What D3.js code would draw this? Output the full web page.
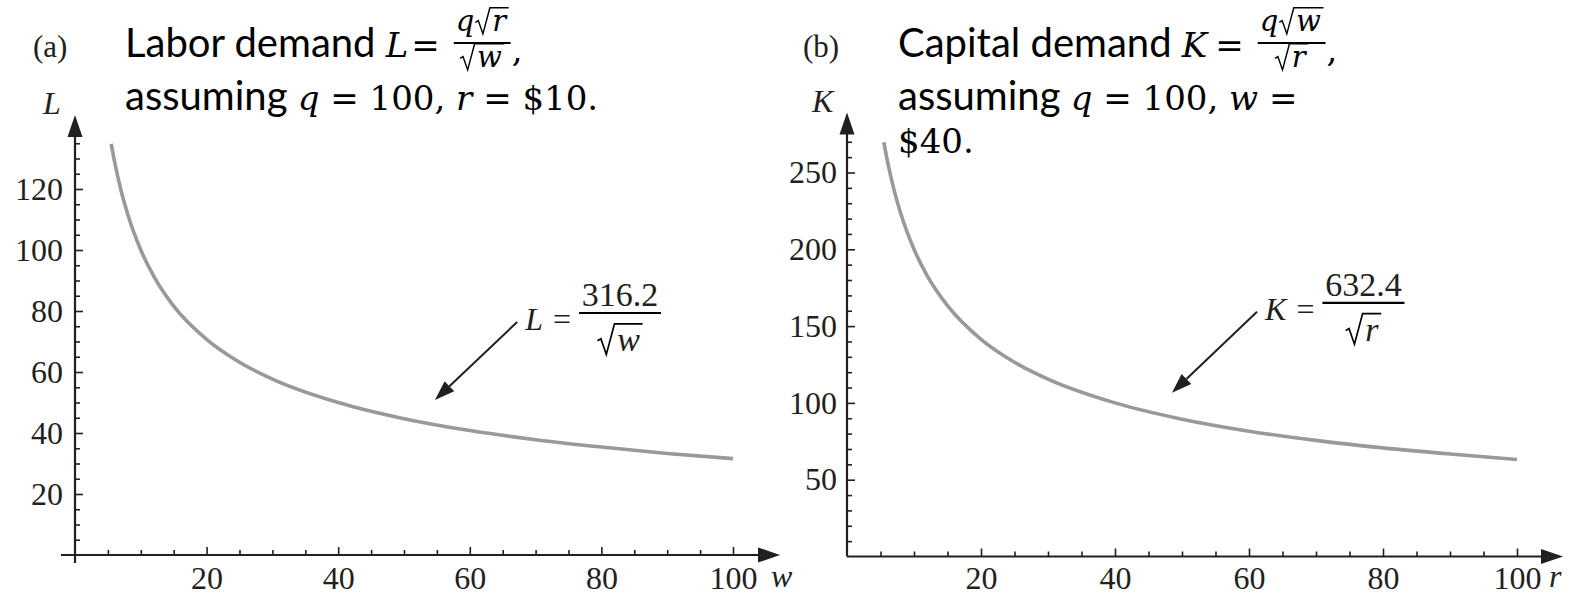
<!DOCTYPE html>
<html>
<head>
<meta charset="utf-8">
<script src="https://cdn.jsdelivr.net/npm/d3@7"></script>
<style>
body { margin: 0; background: #fff; }
text { white-space: pre; }
.tick text { font-family: "Liberation Serif", "Times New Roman", serif; font-size: 32px; fill: #231f20; }
.tick line { stroke: #231f20; stroke-width: 1.6; }
.ttl { font-family: Lato, sans-serif; fill: #000; }
.m { font-family: "DejaVu Serif", serif; fill: #000; }
.mi { font-family: "DejaVu Serif", serif; font-style: italic; fill: #000; }
.ts { font-family: "Liberation Serif", "Times New Roman", serif; fill: #231f20; }
.tsi { font-family: "Liberation Serif", "Times New Roman", serif; font-style: italic; fill: #231f20; }
</style>
</head>
<body>
<svg id="chart" width="1575" height="595"></svg>
<script>
// values
var wageVals = [5.5, 6, 7, 8, 10, 12, 15, 20, 25, 30, 40, 50, 60, 70, 80, 90, 100];
var laborVals = [134.8, 129.1, 119.5, 111.8, 100, 91.3, 81.6, 70.7, 63.2, 57.7, 50, 44.7, 40.8, 37.8, 35.4, 33.3, 31.6];
var rentVals = [5.5, 6, 7, 8, 10, 12, 15, 20, 25, 30, 40, 50, 60, 70, 80, 90, 100];
var capitalVals = [269.7, 258.2, 239.0, 223.6, 200, 182.6, 163.3, 141.4, 126.5, 115.5, 100, 89.4, 81.6, 75.6, 70.7, 66.7, 63.2];

var xTicks = [20, 40, 60, 80, 100];
var xMinor = [5, 10, 15, 25, 30, 35, 45, 50, 55, 65, 70, 75, 85, 90, 95];
var laborTicks = [20, 40, 60, 80, 100, 120];
var laborMinor = [5, 10, 15, 25, 30, 35, 45, 50, 55, 65, 70, 75, 85, 90, 95, 105, 110, 115, 125, 130, 135];
var capitalTicks = [50, 100, 150, 200, 250];
var capitalMinor = [10, 20, 30, 40, 60, 70, 80, 90, 110, 120, 130, 140, 160, 170, 180, 190, 210, 220, 230, 240, 260, 270];

var svg = d3.select("#chart");
var ink = "#231f20";

// put text pieces one after another, return end x
function run(g, x, y, parts) {
  parts.forEach(function(p) {
    var t = g.append("text").attr("x", x).attr("y", y)
      .attr("class", p.c).style("font-size", p.s + "px").text(p.t);
    x += t.node().getComputedTextLength() + (p.gap || 0);
  });
  return x;
}

// square root sign with overbar
function radical(g, x, y, s, txt, cls) {
  var t = g.append("text").attr("x", x + 0.58 * s).attr("y", y)
    .attr("class", cls).style("font-size", s + "px").text(txt);
  var w = t.node().getComputedTextLength();
  var top = y - 0.8 * s;
  g.append("path")
    .attr("d", "M" + x + "," + (y - 0.3 * s) + "l" + (0.1 * s) + "," + (-0.06 * s) +
      "L" + (x + 0.26 * s) + "," + (y + 0.1 * s) + "L" + (x + 0.5 * s) + "," + top +
      "H" + (x + 0.6 * s + w + 2))
    .attr("fill", "none").attr("stroke", "#000").attr("stroke-width", Math.max(1.3, s * 0.05));
  return x + 0.6 * s + w + 2;
}

function fraction(g, x0, barY, numFn, denFn, numOff, denOff, barW) {
  var n = g.append("g"), d = g.append("g");
  numFn(n); denFn(d);
  var nb = n.node().getBBox(), db = d.node().getBBox();
  var bw = barW || Math.max(nb.width, db.width) + 4;
  n.attr("transform", "translate(" + (x0 + (bw - nb.width) / 2 - nb.x) + "," + (barY - numOff) + ")");
  d.attr("transform", "translate(" + (x0 + (bw - db.width) / 2 - db.x) + "," + (barY + denOff) + ")");
  g.append("line").attr("x1", x0).attr("x2", x0 + bw).attr("y1", barY).attr("y2", barY)
    .attr("stroke", "#000").attr("stroke-width", 2.2);
  return x0 + bw;
}

function drawPanel(p) {
  var g = svg.append("g");
  var x = d3.scaleLinear().domain([0, 100]).range(p.xRange);
  var y = d3.scaleLinear().domain([0, p.yMax]).range(p.yRange);

  // minor ticks
  g.append("g").attr("transform", "translate(0," + y(0) + ")")
    .call(d3.axisBottom(x).tickValues(xMinor).tickFormat("").tickSizeInner(-5).tickSizeOuter(0))
    .call(function(a) { a.select(".domain").remove(); });
  g.append("g").attr("transform", "translate(" + x(0) + ",0)")
    .call(d3.axisLeft(y).tickValues(p.yMinor).tickFormat("").tickSizeInner(-5).tickSizeOuter(0))
    .call(function(a) { a.select(".domain").remove(); });

  // major ticks + labels
  g.append("g").attr("transform", "translate(0," + y(0) + ")")
    .call(d3.axisBottom(x).tickValues(xTicks).tickSizeInner(-8).tickSizeOuter(0).tickPadding(p.xPad))
    .call(function(a) { a.select(".domain").remove(); });
  g.append("g").attr("transform", "translate(" + x(0) + ",0)")
    .call(d3.axisLeft(y).tickValues(p.yTicks).tickSizeInner(-8).tickSizeOuter(0).tickPadding(p.yPad))
    .call(function(a) { a.select(".domain").remove(); });

  // axis lines with arrow heads
  var xEnd = x(100) + p.xArrow, yEnd = y(p.yMax) - p.yArrow;
  g.append("line").attr("x1", x(0) - p.xLeft).attr("x2", xEnd - 10)
    .attr("y1", y(0)).attr("y2", y(0)).attr("stroke", ink).attr("stroke-width", 2.2);
  g.append("line").attr("x1", x(0)).attr("x2", x(0))
    .attr("y1", y(0) + p.yBelow).attr("y2", yEnd + 10).attr("stroke", ink).attr("stroke-width", 2.2);
  g.append("path").attr("fill", ink)
    .attr("d", "M" + xEnd + "," + y(0) + "l-22,-7.5v15z");
  g.append("path").attr("fill", ink)
    .attr("d", "M" + x(0) + "," + yEnd + "l-7.5,22h15z");

  // curve
  var line = d3.line()
    .x(function(d) { return x(d[0]); })
    .y(function(d) { return y(d[1]); })
    .curve(d3.curveMonotoneX);
  g.append("path").datum(d3.zip(p.xs, p.ys))
    .attr("d", line)
    .attr("fill", "none").attr("stroke", "#999").attr("stroke-width", 3.6);

  // axis names and panel letter
  g.append("text").attr("class", "tsi").style("font-size", "32px")
    .attr("x", p.xName[0]).attr("y", p.xName[1]).text(p.xVar);
  g.append("text").attr("class", "tsi").style("font-size", "32px")
    .attr("x", p.yName[0]).attr("y", p.yName[1]).text(p.yVar);
  g.append("text").attr("class", "ts").style("font-size", "31px")
    .attr("x", p.letter[0]).attr("y", p.letter[1]).text(p.tag);

  // annotation arrow
  var a = p.note;
  var tx = x(a.tail[0]), ty = y(a.tail[1]), hx = x(a.tip[0]), hy = y(a.tip[1]);
  var ang = Math.atan2(hy - ty, hx - tx);
  var bx = hx - 20 * Math.cos(ang), by = hy - 20 * Math.sin(ang);
  g.append("line").attr("x1", tx).attr("y1", ty).attr("x2", bx).attr("y2", by)
    .attr("stroke", ink).attr("stroke-width", 2);
  var px = -Math.sin(ang) * 7, py = Math.cos(ang) * 7;
  g.append("path").attr("fill", ink)
    .attr("d", "M" + hx + "," + hy + "L" + (bx + px) + "," + (by + py) + "L" + (bx - px) + "," + (by - py) + "Z");

  // annotation formula
  var fx = run(g, tx + 8, ty + 8, [{t: p.yVar, c: "tsi", s: 32, gap: 10}, {t: "=", c: "ts", s: 32, gap: 8}]);
  fraction(g, fx, ty - 9, function(n) {
    run(n, 0, 0, [{t: a.num, c: "ts", s: 34}]);
  }, function(d) {
    radical(d, 0, 0, 34, p.xVar, "tsi");
  }, 7, 38, 82);
}

drawPanel({
  xRange: [75, 733], yMax: 120, yRange: [555, 189],
  yTicks: laborTicks, yMinor: laborMinor,
  xPad: 11, yPad: 12, xArrow: 47, yArrow: 74, xLeft: 14, yBelow: 8,
  xs: wageVals, ys: laborVals,
  xVar: "w", yVar: "L", tag: "(a)",
  xName: [771, 587], yName: [43, 114], letter: [33, 57],
  note: {tail: [67.2, 76.4], tip: [54.7, 50.8], num: "316.2"}
});

drawPanel({
  xRange: [847, 1517], yMax: 250, yRange: [556.5, 172.5],
  yTicks: capitalTicks, yMinor: capitalMinor,
  xPad: 10, yPad: 10, xArrow: 46, yArrow: 60, xLeft: 0, yBelow: 0,
  xs: rentVals, ys: capitalVals,
  xVar: "r", yVar: "K", tag: "(b)",
  xName: [1549, 587], yName: [812, 112], letter: [803, 57],
  note: {tail: [61.2, 159.3], tip: [48.5, 106.6], num: "632.4"}
});

// titles
var tg = svg.append("g");
var ts = 40, ms = 34, fs = 29;

// (a)
var xa = run(tg, 125, 57, [{t: "Labor demand ", c: "ttl", s: ts}, {t: "L", c: "mi", s: ms, gap: 3}, {t: "=", c: "m", s: ms, gap: 14}]);
xa = fraction(tg, xa, 43, function(n) {
  var e = run(n, 0, 0, [{t: "q", c: "mi", s: fs, gap: 1}]);
  radical(n, e, 0, fs, "r", "mi");
}, function(d) {
  radical(d, 0, 0, fs, "w", "mi");
}, 12, 24);
run(tg, xa + 1, 62, [{t: ",", c: "m", s: ms}]);
run(tg, 125, 110, [{t: "assuming ", c: "ttl", s: ts}, {t: "q", c: "mi", s: ms},
  {t: " = 100, ", c: "m", s: ms}, {t: "r", c: "mi", s: ms}, {t: " = $10.", c: "m", s: ms}]);

// (b)
var xb = run(tg, 898, 57, [{t: "Capital demand ", c: "ttl", s: ts}, {t: "K", c: "mi", s: ms, gap: 8}, {t: "=", c: "m", s: ms, gap: 14}]);
xb = fraction(tg, xb, 43, function(n) {
  var e = run(n, 0, 0, [{t: "q", c: "mi", s: fs, gap: 1}]);
  radical(n, e, 0, fs, "w", "mi");
}, function(d) {
  radical(d, 0, 0, fs, "r", "mi");
}, 12, 24);
run(tg, xb + 1, 62, [{t: ",", c: "m", s: ms}]);
run(tg, 898, 110, [{t: "assuming ", c: "ttl", s: ts}, {t: "q", c: "mi", s: ms},
  {t: " = 100, ", c: "m", s: ms}, {t: "w", c: "mi", s: ms}, {t: " =", c: "m", s: ms}]);
run(tg, 898, 153, [{t: "$40.", c: "m", s: ms}]);
</script>
</body>
</html>
